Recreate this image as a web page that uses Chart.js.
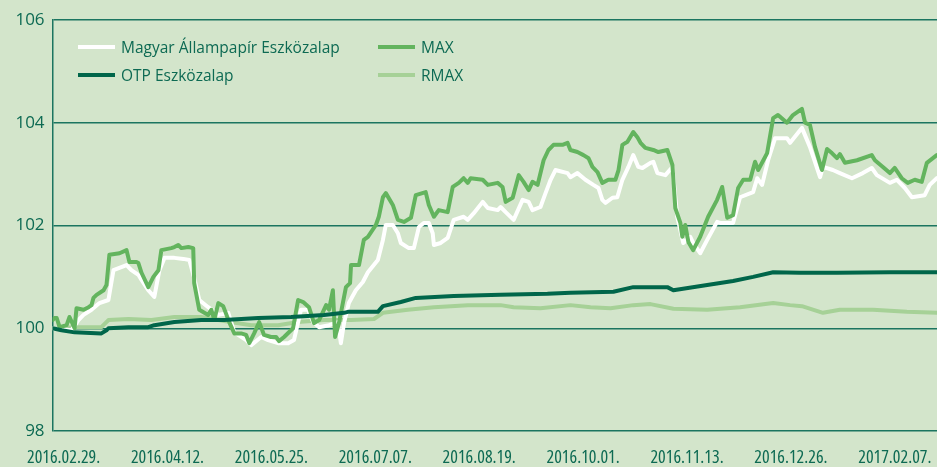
<!DOCTYPE html>
<html>
<head>
<meta charset="utf-8">
<script src="https://cdn.jsdelivr.net/npm/chart.js@4.4.1/dist/chart.umd.min.js"></script>
<style>
  html, body { margin: 0; padding: 0; background: #d3e5cb; }
  #wrap { position: relative; width: 937px; height: 467px; overflow: hidden; background: #d3e5cb; }
  canvas { position: absolute; left: 0; top: 0; }
  .legend { position: absolute; font-family: "Open Sans", "Noto Sans", sans-serif; font-size: 15.5px; color: #0d6a53; white-space: nowrap; }
  .legend .item { position: absolute; display: flex; align-items: center; }
  .legend .swatch { width: 37px; height: 4px; margin-right: 6px; }
</style>
</head>
<body>
<div id="wrap">
  <canvas id="c" width="937" height="467"></canvas>
  <div class="legend" id="legend"></div>
</div>
<script>
// ---- Data ----
const seriesNames = ['Magyar Állampapír Eszközalap', 'MAX', 'OTP Eszközalap', 'RMAX'];
const seriesColors = ['#ffffff', '#63b45e', '#00664a', '#a6d197'];

// x tick labels, every 43 days starting 2016.02.29.
const xTickLabels = ['2016.02.29.', '2016.04.12.', '2016.05.25.', '2016.07.07.', '2016.08.19.', '2016.10.01.', '2016.11.13.', '2016.12.26.', '2017.02.07.'];
const yTickValues = [98, 100, 102, 104, 106];

// Magyar Állampapír Eszközalap (days since 2016.02.29.)
const mapDays = [0,3.7,7.8,10.7,12.8,16.1,19.4,23.1,25.2,30.6,32.6,35.5,36.8,39.6,42.1,44.2,46.3,50.4,54.1,56.6,58.6,60.7,64.4,68.6,72.7,75.2,80.1,82.2,86.3,89.2,93.3,97.5,99.9,102.8,105.7,107.8,110.3,114.4,118.1,119.3,120.6,122.6,125.5,128.4,130.5,134.6,136.7,137.9,140.8,142.9,144.1,147.4,149.5,151.6,153.6,155.7,157.3,157.8,160.6,163.5,166,170.1,171.8,174.3,178,180.1,184.2,185.4,187.5,190.8,194.5,197,198.6,201.9,204,206.1,208.1,213.1,214.3,217.2,220.5,223.8,225.9,227.5,228.8,231.7,233.7,235.8,238.3,240.3,242.4,244.1,247.4,248.6,250.3,253.6,256.5,258.5,261,263.9,265.1,268,270.9,275,276.3,281.6,284.5,289.9,291.6,293.6,296.1,299,303.9,305.2,310.1,313.4,317.6,318.8,322.9,325.8,330.8,335.3,339,341.1,346.5,349.4,352.7,355.6,360.9,363,365.9];
const mapValues = [100.00,99.98,99.96,100.16,100.26,100.36,100.49,100.55,101.13,101.23,101.13,101.04,100.94,100.74,100.61,101.13,101.37,101.37,101.35,101.33,100.98,100.55,100.41,100.26,100.30,99.92,99.77,99.67,99.83,99.77,99.71,99.71,99.77,100.36,100.36,100.12,100.02,100.06,100.12,99.71,100.10,100.49,100.74,100.90,101.09,101.33,101.72,102.01,102.01,101.85,101.66,101.56,101.56,101.97,102.05,102.05,101.85,101.62,101.66,101.76,102.11,102.17,102.11,102.24,102.46,102.34,102.30,102.36,102.26,102.11,102.50,102.46,102.30,102.36,102.63,102.89,103.08,103.02,102.94,103.02,102.89,102.79,102.73,102.50,102.44,102.54,102.55,102.89,103.14,103.37,103.14,103.12,103.22,103.24,103.02,102.98,103.14,102.17,101.66,101.78,101.66,101.46,101.72,102.07,102.05,102.05,102.55,102.65,102.92,102.79,103.27,103.70,103.70,103.61,103.90,103.53,102.94,103.14,103.08,103.02,102.92,103.02,103.12,102.98,102.83,102.89,102.73,102.55,102.59,102.79,102.92];

// MAX
const maxDays = [0,0.8,1.7,2.9,5.8,7,9.1,9.9,12.8,14.9,16.1,16.9,18.2,21.1,22.3,23.5,27.7,30.6,31.8,34.7,35.5,36.8,39.6,41.7,43.8,45,49.1,50.4,52,53.3,56.2,58.2,58.6,60.7,64.4,65.7,66.9,68.6,70.6,73.1,75.2,78,80.1,81.4,83.4,85.5,87.5,90.4,92.5,93.7,95.8,99.5,101.6,103.7,106.1,108.2,110.3,113.2,114.4,116,116.9,118.5,121.4,123.1,123.5,126.8,128.8,130.5,133.8,135,136.7,137.9,140.8,142.9,145.4,148.3,150.3,154.4,155.7,157.8,159.8,163.5,165.6,168.1,170.1,171.8,173,178,180.1,184.2,186.2,187.5,190.4,192.9,194.9,197,198.6,200.7,203.2,205.2,207.3,211,213.1,214.3,217.2,219.7,221.8,223.4,225.5,227.5,230,232.9,234.2,235.8,237.9,240.3,242,243.3,245.3,248.6,250.7,254.4,256.5,257.7,259.8,260.6,261.8,263.1,265.1,268,271.3,275,277.1,279.2,281.6,283.7,285.8,288.7,290.7,292,295.7,298.2,300.2,303.9,306.4,310.1,311.4,313.4,315.5,318.4,320.5,322.5,324.6,325.8,327.9,332.9,339,340.3,343.6,346.5,348.5,351.4,353.9,356.8,359.7,361.8,365.9];
const maxValues = [100.16,100.20,100.20,100.02,100.06,100.22,100.00,100.39,100.36,100.41,100.45,100.59,100.65,100.74,100.84,101.43,101.46,101.52,101.29,101.29,101.27,101.08,100.80,101.00,101.13,101.52,101.56,101.58,101.62,101.56,101.58,101.56,100.88,100.36,100.26,100.36,100.16,100.49,100.43,100.12,99.90,99.90,99.87,99.71,99.90,100.12,99.87,99.83,99.83,99.75,99.83,100.00,100.55,100.51,100.41,100.10,100.16,100.45,100.36,100.74,99.83,100.10,100.80,100.88,101.23,101.23,101.72,101.78,102.01,102.17,102.55,102.63,102.40,102.11,102.07,102.15,102.59,102.65,102.40,102.17,102.30,102.26,102.75,102.83,102.92,102.83,102.92,102.89,102.79,102.83,102.75,102.46,102.54,102.98,102.85,102.69,102.85,102.79,103.27,103.47,103.57,103.57,103.61,103.47,103.43,103.37,103.31,103.14,103.04,102.83,102.89,102.89,103.08,103.57,103.63,103.82,103.72,103.61,103.51,103.47,103.43,103.47,103.18,102.34,102.05,101.78,102.01,101.68,101.52,101.78,102.17,102.50,102.75,102.15,102.20,102.73,102.89,102.89,103.24,103.08,103.41,104.09,104.15,104.00,104.15,104.27,104.00,103.96,103.53,103.08,103.49,103.41,103.31,103.39,103.22,103.27,103.37,103.27,103.14,103.02,103.12,102.92,102.83,102.89,102.85,103.22,103.37];

// OTP Eszközalap
const otpDays = [0,3.7,9.1,20.2,22.3,23.1,31.4,39.6,42.1,50.4,61.5,71,85.1,98.7,112.3,120.6,122.2,134.6,136.7,144.1,150.3,166,185.4,204.8,214.3,232.1,240.3,254.4,256.9,270.9,281.6,289.9,298.2,309.3,324.6,346.5,365.9];
const otpValues = [100.00,99.96,99.92,99.90,99.96,100.00,100.02,100.02,100.06,100.12,100.16,100.16,100.20,100.22,100.26,100.30,100.32,100.32,100.43,100.51,100.59,100.63,100.65,100.67,100.69,100.71,100.80,100.80,100.74,100.84,100.92,101.00,101.09,101.08,101.08,101.09,101.09];

// RMAX
const rmaxDays = [0,9.1,20.2,23.1,31.4,40.9,50.4,61.5,71,82.2,93.3,101.6,112.3,123.5,133,136.7,147,157.8,171.8,185.4,190.8,201.9,214.3,222.6,230.9,240.3,247.4,256.9,270.9,284.5,298.2,305.2,310.1,318.8,325.8,339.5,353.5,365.9];
const rmaxValues = [100.00,100.02,100.02,100.16,100.18,100.16,100.22,100.22,100.14,100.06,100.06,100.12,100.16,100.16,100.18,100.30,100.36,100.41,100.45,100.45,100.41,100.39,100.45,100.41,100.39,100.45,100.47,100.38,100.36,100.41,100.49,100.45,100.43,100.30,100.36,100.36,100.32,100.30];

// ---- Build chart ----
const toPoints = (xs, ys) => xs.map((x, i) => ({ x: x, y: ys[i] }));
const TICK_STEP_DAYS = 43;
const axisColor = '#1b7560';
const textColor = '#0d6a53';

const datasets = [
  { label: seriesNames[2], data: toPoints(otpDays, otpValues), borderColor: seriesColors[2], order: 0 },
  { label: seriesNames[1], data: toPoints(maxDays, maxValues), borderColor: seriesColors[1], order: 1 },
  { label: seriesNames[0], data: toPoints(mapDays, mapValues), borderColor: seriesColors[0], order: 2 },
  { label: seriesNames[3], data: toPoints(rmaxDays, rmaxValues), borderColor: seriesColors[3], order: 3 }
].map(d => Object.assign(d, { borderWidth: 4, pointRadius: 0, tension: 0, fill: false, borderJoinStyle: 'round', borderCapStyle: 'round' }));

new Chart(document.getElementById('c'), {
  type: 'line',
  data: { datasets: datasets },
  options: {
    responsive: false,
    animation: false,
    devicePixelRatio: 1,
    layout: { padding: { top: 20, right: 0, left: 0, bottom: 0 } },
    plugins: { legend: { display: false }, tooltip: { enabled: false } },
    scales: {
      x: {
        type: 'linear',
        min: 0,
        max: 366,
        afterBuildTicks: (scale) => {
          scale.ticks = xTickLabels.map((_, i) => ({ value: i * TICK_STEP_DAYS }));
        },
        ticks: {
          callback: (v) => xTickLabels[Math.round(v / TICK_STEP_DAYS)],
          autoSkip: false,
          maxRotation: 0,
          minRotation: 0,
          labelOffset: 11,
          padding: 16,
          color: textColor,
          font: { family: "'Open Sans', 'DejaVu Sans', sans-serif", size: 18, weight: 'condensed' }
        },
        grid: { display: false, drawTicks: false },
        border: { display: false },
        afterFit: (s) => { s.height = 36; }
      },
      y: {
        min: 98,
        max: 106,
        afterBuildTicks: (scale) => {
          scale.ticks = yTickValues.map(v => ({ value: v }));
        },
        ticks: {
          color: textColor,
          padding: 8,
          font: { family: "'Open Sans', 'Noto Sans', sans-serif", size: 17 }
        },
        grid: { color: axisColor, lineWidth: 1.5, drawTicks: false },
        border: { display: true, color: axisColor, width: 1.5 },
        afterFit: (s) => { s.width = 51; }
      }
    }
  }
});

// ---- HTML legend (real text) ----
const legendLayout = [
  { idx: 0, left: 78, top: 47 },
  { idx: 1, left: 378, top: 47 },
  { idx: 2, left: 78, top: 75 },
  { idx: 3, left: 378, top: 75 }
];
const legendEl = document.getElementById('legend');
legendLayout.forEach(it => {
  const d = document.createElement('div');
  d.className = 'item';
  d.style.left = it.left + 'px';
  d.style.top = (it.top - 11) + 'px';
  d.style.height = '22px';
  const sw = document.createElement('span');
  sw.className = 'swatch';
  sw.style.background = seriesColors[it.idx];
  const tx = document.createElement('span');
  tx.textContent = seriesNames[it.idx];
  d.appendChild(sw);
  d.appendChild(tx);
  legendEl.appendChild(d);
});
</script>
</body>
</html>
